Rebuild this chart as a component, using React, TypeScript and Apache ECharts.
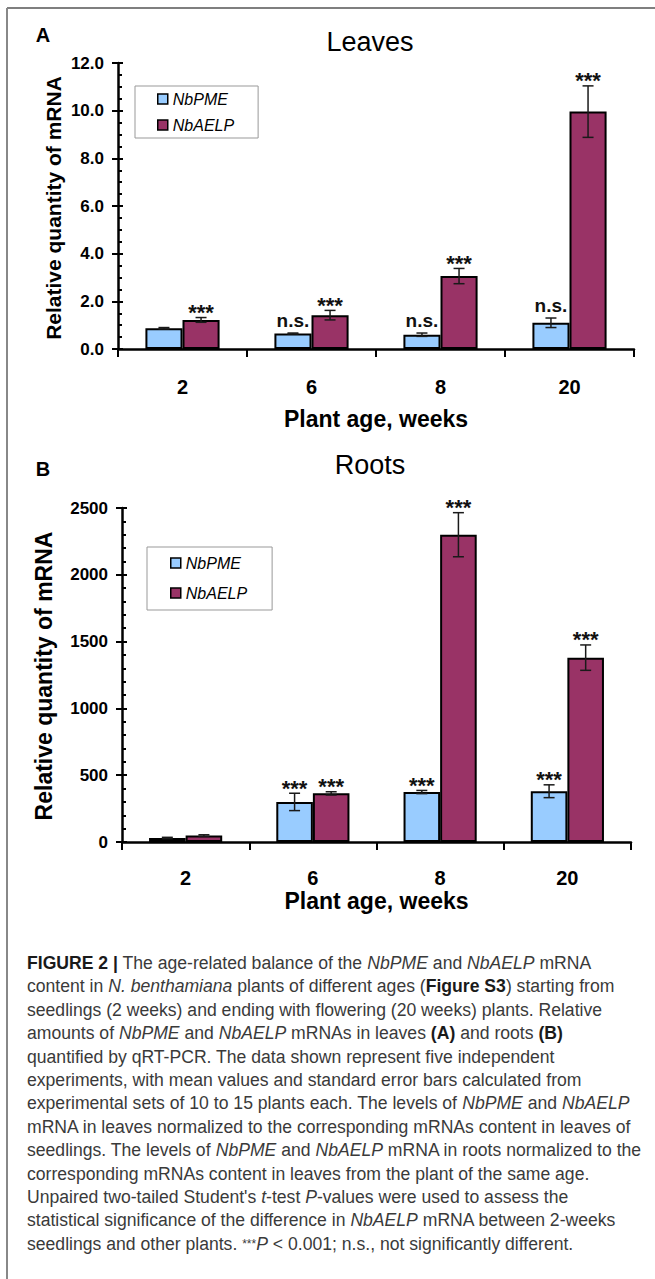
import React, { useEffect, useRef } from 'react';
import * as echarts from 'echarts';

const FONT = '"Liberation Sans", Arial, Helvetica, sans-serif';

// ---- data ----
const weeks = ['2', '6', '8', '20'];

const leavesPME = [0.87, 0.65, 0.6, 1.1];
const leavesPMEErr = [0.03, 0.02, 0.07, 0.2];
const leavesPMESig = ['', 'n.s.', 'n.s.', 'n.s.'];
const leavesAELP = [1.22, 1.42, 3.06, 9.96];
const leavesAELPErr = [0.1, 0.2, 0.32, 1.08];
const leavesAELPSig = ['***', '***', '***', '***'];

const rootsPME = [30, 300, 374, 380];
const rootsPMEErr = [5, 65, 12, 48];
const rootsPMESig = ['', '***', '***', '***'];
const rootsAELP = [48, 364, 2300, 1380];
const rootsAELPErr = [6, 12, 165, 95];
const rootsAELPSig = ['', '***', '***', '***'];

const leavesAxis = { min: 0, max: 12, interval: 2, minorSplit: 4 };
const rootsAxis = { min: 0, max: 2500, interval: 500, minorSplit: 5 };

const seriesNames = ['NbPME', 'NbAELP'];
const xAxisTitle = 'Plant age, weeks';
const yAxisTitle = 'Relative quantity of mRNA';

const captionLines = [
  '{b|FIGURE 2 |} The age-related balance of the {i|NbPME} and {i|NbAELP} mRNA',
  'content in {i|N. benthamiana} plants of different ages ({b|Figure S3}) starting from',
  'seedlings (2 weeks) and ending with flowering (20 weeks) plants. Relative',
  'amounts of {i|NbPME} and {i|NbAELP} mRNAs in leaves {b|(A)} and roots {b|(B)}',
  'quantified by qRT-PCR. The data shown represent five independent',
  'experiments, with mean values and standard error bars calculated from',
  'experimental sets of 10 to 15 plants each. The levels of {i|NbPME} and {i|NbAELP}',
  'mRNA in leaves normalized to the corresponding mRNAs content in leaves of',
  'seedlings. The levels of {i|NbPME} and {i|NbAELP} mRNA in roots normalized to the',
  'corresponding mRNAs content in leaves from the plant of the same age.',
  "Unpaired two-tailed Student's {i|t}-test {i|P}-values were used to assess the",
  'statistical significance of the difference in {i|NbAELP} mRNA between 2-weeks',
  'seedlings and other plants. {s|***}{i|P} < 0.001; n.s., not significantly different.',
];

// ---- styles ----
const BLUE = '#99CCFF';
const PURPLE = '#993366';
const CAT_GAP = 0.425;
const CAP_SIZE = 17.6;

function makeErrorSeries(values: number[], errs: number[], sigs: string[], side: number, grid: number) {
  return {
    type: 'custom',
    xAxisIndex: grid,
    yAxisIndex: grid * 2,
    z: 10,
    clip: false,
    data: values.map((v, i) => [i, v, errs[i]]),
    renderItem: (params: any, api: any) => {
      const i = api.value(0);
      const v = api.value(1);
      const e = api.value(2);
      const catW = api.size([1, 0])[0];
      const bw = (catW * (1 - CAT_GAP)) / 2;
      const x = api.coord([i, v])[0] + (side * bw) / 2;
      const yTop = api.coord([i, v + e])[1];
      const yBot = api.coord([i, v - e])[1];
      const cap = 5.5;
      const ls = { stroke: '#1a1a1a', lineWidth: 1.5 };
      const children: any[] = [
        { type: 'line', shape: { x1: x, y1: yTop, x2: x, y2: yBot }, style: ls },
        { type: 'line', shape: { x1: x - cap, y1: yTop, x2: x + cap, y2: yTop }, style: ls },
        { type: 'line', shape: { x1: x - cap, y1: yBot, x2: x + cap, y2: yBot }, style: ls },
      ];
      const sig = sigs[params.dataIndex];
      if (sig) {
        const stars = sig === '***';
        children.push({
          type: 'text',
          x,
          y: yTop - (stars ? 5 : 13),
          style: {
            text: sig,
            fontSize: stars ? 22 : 19,
            fontWeight: 'bold',
            fontFamily: FONT,
            fill: '#111',
            align: 'center',
            verticalAlign: 'middle',
          },
        });
      }
      return { type: 'group', children };
    },
  };
}

function yAxes(grid: number, ax: any, fmt: (v: number) => string, labelSize: number) {
  const lineStyle = { color: '#000', width: 2 };
  return [
    {
      gridIndex: grid,
      type: 'value',
      position: 'left',
      min: ax.min,
      max: ax.max,
      interval: ax.interval,
      axisLine: { show: true, lineStyle: { color: '#000', width: 2.5 } },
      axisTick: { show: true, length: 6, lineStyle },
      axisLabel: { formatter: fmt, fontSize: labelSize, fontWeight: 'bold', color: '#000', fontFamily: FONT, margin: 14 },
      splitLine: { show: false },
    },
    {
      gridIndex: grid,
      type: 'value',
      position: 'left',
      min: ax.min,
      max: ax.max,
      interval: ax.interval,
      axisLine: { show: false },
      axisTick: { show: true, inside: true, length: 5, lineStyle },
      minorTick: { show: true, splitNumber: ax.minorSplit, length: 4, lineStyle },
      axisLabel: { show: false },
      splitLine: { show: false },
      minorSplitLine: { show: false },
    },
  ];
}

function xAxis(grid: number, nameGap: number, labelMargin: number) {
  return {
    gridIndex: grid,
    type: 'category',
    data: weeks,
    axisLine: { show: true, lineStyle: { color: '#000', width: 2.5 } },
    axisTick: { show: true, length: 8, lineStyle: { color: '#000', width: 2 } },
    axisLabel: { fontSize: 20, fontWeight: 'bold', color: '#000', fontFamily: FONT, margin: labelMargin },
    name: xAxisTitle,
    nameLocation: 'middle',
    nameGap,
    nameTextStyle: { fontSize: 23, fontWeight: 'bold', color: '#000', fontFamily: FONT },
  };
}

function barSeries(name: string, data: number[], color: string, grid: number) {
  return {
    type: 'bar',
    name,
    xAxisIndex: grid,
    yAxisIndex: grid * 2,
    data,
    barGap: '0%',
    barCategoryGap: CAT_GAP * 100 + '%',
    itemStyle: { color, borderColor: '#000', borderWidth: 2 },
  };
}

function legend(left: number, top: number, padding: number[], itemGap: number) {
  return {
    left,
    top,
    orient: 'vertical',
    data: seriesNames,
    selectedMode: false,
    padding,
    itemGap,
    itemWidth: 10,
    itemHeight: 10,
    icon: 'rect',
    borderColor: '#999',
    borderWidth: 1,
    itemStyle: { borderColor: '#000', borderWidth: 1.5 },
    textStyle: { fontStyle: 'italic', fontSize: 16, fontFamily: FONT, color: '#000', lineHeight: 16 },
  };
}

export default function App() {
  const ref = useRef<HTMLDivElement>(null);
  useEffect(() => {
    if (!ref.current) return;
    const chart = echarts.init(ref.current, undefined, { renderer: 'svg' });
    const caption = captionLines.map((line, k) => ({
      type: 'text',
      x: 27,
      y: 963 + k * 23.4,
      style: {
        text: line,
        fontSize: CAP_SIZE,
        fontFamily: FONT,
        fill: '#3a3a3a',
        verticalAlign: 'middle',
        rich: {
          b: { fontSize: CAP_SIZE, fontWeight: 'bold', fontFamily: FONT, fill: '#1a1a1a' },
          i: { fontSize: CAP_SIZE, fontStyle: 'italic', fontFamily: FONT, fill: '#3a3a3a' },
          s: { fontSize: 12, fontFamily: FONT, fill: '#3a3a3a' },
        },
      },
    }));
    chart.setOption({
      animation: false,
      backgroundColor: '#fff',
      grid: [
        { left: 118, top: 63, width: 516, height: 286 },
        { left: 122, top: 508, width: 509, height: 334 },
      ],
      xAxis: [xAxis(0, 58, 28), xAxis(1, 47, 26)],
      yAxis: [
        ...yAxes(0, leavesAxis, (v: number) => v.toFixed(1), 17),
        ...yAxes(1, rootsAxis, (v: number) => String(v), 17),
      ],
      legend: [legend(135, 86, [5, 24, 5, 22], 10), legend(147, 547, [8, 25, 9, 23], 14)],
      series: [
        barSeries(seriesNames[0], leavesPME, BLUE, 0),
        barSeries(seriesNames[1], leavesAELP, PURPLE, 0),
        barSeries(seriesNames[0], rootsPME, BLUE, 1),
        barSeries(seriesNames[1], rootsAELP, PURPLE, 1),
        makeErrorSeries(leavesPME, leavesPMEErr, leavesPMESig, -1, 0),
        makeErrorSeries(leavesAELP, leavesAELPErr, leavesAELPSig, 1, 0),
        makeErrorSeries(rootsPME, rootsPMEErr, rootsPMESig, -1, 1),
        makeErrorSeries(rootsAELP, rootsAELPErr, rootsAELPSig, 1, 1),
      ],
      graphic: [
        { type: 'line', shape: { x1: 7, y1: 8, x2: 655, y2: 8 }, style: { stroke: '#555', lineWidth: 1.5 } },
        { type: 'line', shape: { x1: 7, y1: 8, x2: 7, y2: 1279 }, style: { stroke: '#888', lineWidth: 2 } },
        { type: 'text', x: 43, y: 35, style: { text: 'A', fontSize: 20, fontWeight: 'bold', fontFamily: FONT, fill: '#000', align: 'center', verticalAlign: 'middle' } },
        { type: 'text', x: 43, y: 469, style: { text: 'B', fontSize: 20, fontWeight: 'bold', fontFamily: FONT, fill: '#000', align: 'center', verticalAlign: 'middle' } },
        { type: 'text', x: 370, y: 42, style: { text: 'Leaves', fontSize: 27, fontFamily: FONT, fill: '#000', align: 'center', verticalAlign: 'middle' } },
        { type: 'text', x: 370, y: 465, style: { text: 'Roots', fontSize: 27, fontFamily: FONT, fill: '#000', align: 'center', verticalAlign: 'middle' } },
        { type: 'text', x: 53, y: 208, rotation: Math.PI / 2, style: { text: yAxisTitle, fontSize: 21, fontWeight: 'bold', fontFamily: FONT, fill: '#000', align: 'center', verticalAlign: 'middle' } },
        { type: 'text', x: 44, y: 676, rotation: Math.PI / 2, style: { text: yAxisTitle, fontSize: 23, fontWeight: 'bold', fontFamily: FONT, fill: '#000', align: 'center', verticalAlign: 'middle' } },
        ...caption,
      ],
    });
    return () => chart.dispose();
  }, []);
  return <div ref={ref} style={{ position: 'absolute', left: 0, top: 0, width: 655, height: 1279 }} />;
}
